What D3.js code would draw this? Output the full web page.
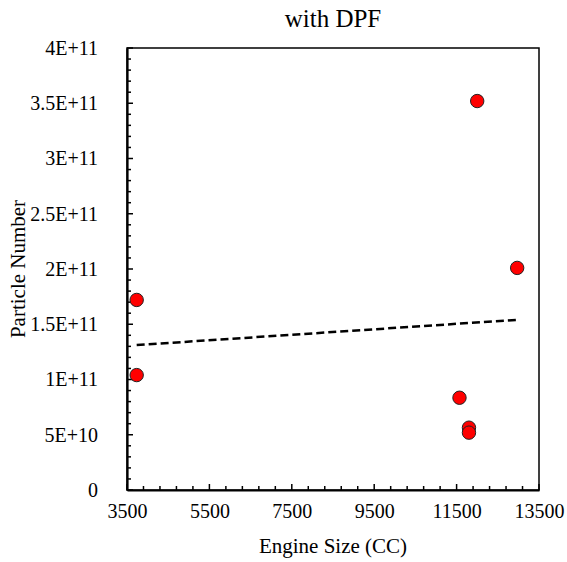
<!DOCTYPE html>
<html>
<head>
<meta charset="utf-8">
<script src="https://cdn.jsdelivr.net/npm/d3@7"></script>
<style>
  body { margin: 0; background: #fff; }
  text { font-family: "Liberation Serif", "Times New Roman", serif; fill: #000; }
</style>
</head>
<body>
<div id="chart"></div>
<script>
// Engine size (CC) and particle number
const engineSize = [3735, 3735, 12000, 12970, 11570, 11800, 11800];
const particleNumber = [1.72e11, 1.04e11, 3.52e11, 2.01e11, 8.35e10, 5.64e10, 5.19e10];

const xTicks = [3500, 5500, 7500, 9500, 11500, 13500];
const yTicks = [0, 5e10, 1e11, 1.5e11, 2e11, 2.5e11, 3e11, 3.5e11, 4e11];
const yTickLabels = ["0", "5E+10", "1E+11", "1.5E+11", "2E+11", "2.5E+11", "3E+11", "3.5E+11", "4E+11"];

const W = 567, H = 562;
const margin = { top: 48, right: 28, bottom: 72, left: 127 };
const width = W - margin.left - margin.right;
const height = H - margin.top - margin.bottom;
const serif = '"Liberation Serif", "Times New Roman", serif';

const svg = d3.select("#chart").append("svg")
    .attr("width", W)
    .attr("height", H);

const g = svg.append("g")
    .attr("transform", `translate(${margin.left},${margin.top})`);

const x = d3.scaleLinear().domain([3500, 13500]).range([0, width]);
const y = d3.scaleLinear().domain([0, 4e11]).range([height, 0]);

// frame (top / right)
g.append("rect")
    .attr("width", width)
    .attr("height", height)
    .attr("fill", "none")
    .attr("stroke", "#000")
    .attr("stroke-width", 1.5);

// minor ticks, drawn inside
const xMinor = d3.range(3500, 13501, 400);
const yMinor = d3.range(0, 4e11 + 1, 1e10);

g.append("g").selectAll("line")
    .data(xMinor)
    .enter().append("line")
    .attr("x1", d => x(d)).attr("x2", d => x(d))
    .attr("y1", height)
    .attr("y2", d => height - (xTicks.includes(d) ? 6 : 4))
    .attr("stroke", "#000").attr("stroke-width", 1.5);

g.append("g").selectAll("line")
    .data(yMinor)
    .enter().append("line")
    .attr("y1", d => y(d)).attr("y2", d => y(d))
    .attr("x1", 0)
    .attr("x2", (d, i) => (i % 5 === 0 ? 6 : 4))
    .attr("stroke", "#000").attr("stroke-width", 1.5);

// axes
const xAxis = g.append("g")
    .attr("transform", `translate(0,${height})`)
    .call(d3.axisBottom(x).tickValues(xTicks).tickSize(0).tickPadding(14).tickFormat(d3.format("d")));
xAxis.attr("font-family", null);
xAxis.select(".domain").attr("stroke-width", 2.2);
xAxis.selectAll("text")
    .style("font-family", serif)
    .style("font-size", "20px");

const yAxis = g.append("g")
    .call(d3.axisLeft(y).tickValues(yTicks).tickSize(0).tickPadding(29)
        .tickFormat((d, i) => yTickLabels[i]));
yAxis.attr("font-family", null);
yAxis.select(".domain").attr("stroke-width", 2.2);
yAxis.selectAll("text")
    .style("font-family", serif)
    .style("font-size", "20px");

// linear trendline (least squares)
const n = engineSize.length;
const mx = d3.mean(engineSize), my = d3.mean(particleNumber);
let sxy = 0, sxx = 0;
for (let i = 0; i < n; i++) {
    sxy += (engineSize[i] - mx) * (particleNumber[i] - my);
    sxx += (engineSize[i] - mx) * (engineSize[i] - mx);
}
const slope = sxy / sxx;
const intercept = my - slope * mx;
const xExt = d3.extent(engineSize);

g.append("line")
    .attr("x1", x(xExt[0])).attr("y1", y(intercept + slope * xExt[0]))
    .attr("x2", x(xExt[1])).attr("y2", y(intercept + slope * xExt[1]))
    .attr("stroke", "#000")
    .attr("stroke-width", 2.5)
    .attr("stroke-dasharray", "8,4");

// points
g.selectAll("circle")
    .data(engineSize)
    .enter().append("circle")
    .attr("cx", d => x(d))
    .attr("cy", (d, i) => y(particleNumber[i]))
    .attr("r", 6.7)
    .attr("fill", "#ff0000")
    .attr("stroke", "#222")
    .attr("stroke-width", 1);

// titles
svg.append("text")
    .attr("x", margin.left + width / 2)
    .attr("y", 27)
    .attr("text-anchor", "middle")
    .style("font-size", "25px")
    .text("with DPF");

svg.append("text")
    .attr("x", margin.left + width / 2)
    .attr("y", 553)
    .attr("text-anchor", "middle")
    .style("font-size", "21px")
    .text("Engine Size (CC)");

svg.append("text")
    .attr("transform", `translate(25,${margin.top + height / 2}) rotate(-90)`)
    .attr("text-anchor", "middle")
    .style("font-size", "21px")
    .text("Particle Number");
</script>
</body>
</html>
